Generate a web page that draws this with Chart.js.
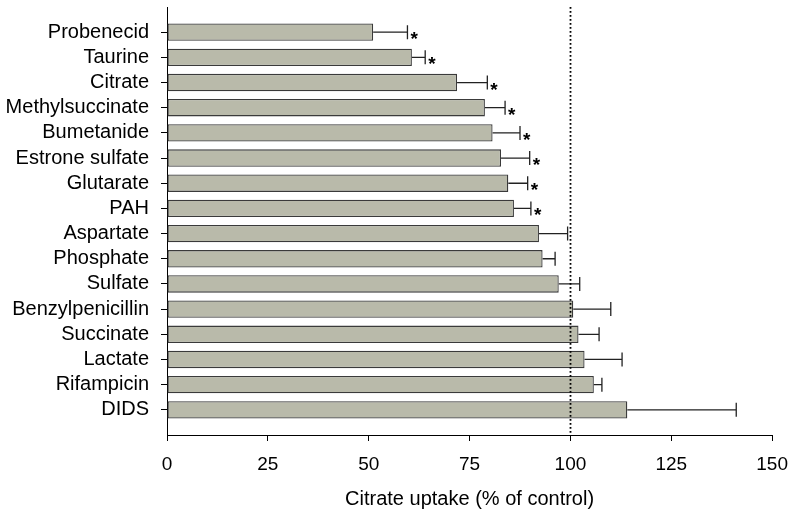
<!DOCTYPE html>
<html>
<head>
<meta charset="utf-8">
<script src="https://cdn.jsdelivr.net/npm/chart.js@4/dist/chart.umd.min.js"></script>
<style>
  html, body { margin: 0; padding: 0; background: #fff; }
  #chart { display: block; }
</style>
</head>
<body>
<canvas id="chart" width="800" height="517"></canvas>
<script>
const labels = ["Probenecid", "Taurine", "Citrate", "Methylsuccinate", "Bumetanide", "Estrone sulfate",
  "Glutarate", "PAH", "Aspartate", "Phosphate", "Sulfate", "Benzylpenicillin", "Succinate",
  "Lactate", "Rifampicin", "DIDS"];
const uptake = [51.1, 60.7, 71.9, 78.8, 80.7, 82.8, 84.6, 86.0, 92.2, 93.1, 97.1, 100.7, 102.0, 103.5, 105.8, 114.1];
const sem = [8.5, 3.3, 7.5, 5.0, 6.8, 7.1, 4.8, 4.2, 7.1, 3.1, 5.2, 9.3, 5.1, 9.3, 2.0, 27.0];
const significant = [true, true, true, true, true, true, true, true, false, false, false, false, false, false, false, false];
const xTicks = [0, 25, 50, 75, 100, 125, 150];
const controlLevel = 100;

const FONT = '"Liberation Sans", Arial, sans-serif';

// error bars, asterisks and the 100% line
const extras = {
  id: "extras",
  afterDatasetsDraw(chart) {
    const ctx = chart.ctx;
    const x = chart.scales.x;
    const area = chart.chartArea;
    const bars = chart.getDatasetMeta(0).data;

    ctx.save();
    ctx.strokeStyle = "#222";
    ctx.lineWidth = 1.3;
    bars.forEach((bar, i) => {
      const x0 = x.getPixelForValue(uptake[i]);
      const x1 = x.getPixelForValue(uptake[i] + sem[i]);
      const y = bar.y;
      ctx.beginPath();
      ctx.moveTo(x0, y);
      ctx.lineTo(x1, y);
      ctx.moveTo(x1, y - 7);
      ctx.lineTo(x1, y + 7);
      ctx.stroke();
      if (significant[i]) {
        ctx.fillStyle = "#000";
        ctx.font = "bold 19px " + FONT;
        ctx.textAlign = "left";
        ctx.textBaseline = "alphabetic";
        ctx.fillText("*", x1 + 3, y + 13);
      }
    });

    const xr = Math.round(x.getPixelForValue(controlLevel)) + 0.5;
    ctx.strokeStyle = "#000";
    ctx.lineWidth = 1.8;
    ctx.setLineDash([1.8, 2.2]);
    ctx.beginPath();
    ctx.moveTo(xr, area.top);
    ctx.lineTo(xr, area.bottom);
    ctx.stroke();
    ctx.restore();
  }
};

new Chart(document.getElementById("chart"), {
  type: "bar",
  data: {
    datasets: [{
      data: uptake.map((v, i) => ({ x: v, y: i })),
      backgroundColor: "#b9baaa",
      borderColor: "#3a3a3a",
      borderWidth: 1.3,
      borderSkipped: false,
      categoryPercentage: 1,
      barPercentage: 0.69
    }]
  },
  options: {
    indexAxis: "y",
    responsive: false,
    animation: false,
    devicePixelRatio: 1,
    layout: { padding: { top: 7, right: 21, bottom: 0, left: 0 } },
    plugins: { legend: { display: false }, tooltip: { enabled: false } },
    scales: {
      x: {
        type: "linear",
        min: 0,
        max: 150,
        offset: false,
        afterBuildTicks: s => { s.ticks = xTicks.map(v => ({ value: v })); },
        afterFit: s => { s.height = 82; },
        ticks: { color: "#000", font: { family: FONT, size: 19 }, padding: 12 },
        grid: { drawOnChartArea: false, tickLength: 6, color: "#000", lineWidth: 1, offset: false },
        border: { color: "#000", width: 1 },
        title: {
          display: true,
          text: "Citrate uptake (% of control)",
          color: "#000",
          font: { family: FONT, size: 20 },
          padding: { top: 4, bottom: 6 }
        }
      },
      y: {
        type: "linear",
        min: -1,
        max: 16,
        reverse: true,
        offset: false,
        afterBuildTicks: s => { s.ticks = labels.map((_, i) => ({ value: i })); },
        afterFit: s => { s.width = 167; s.paddingTop = 0; s.paddingBottom = 0; },
        ticks: {
          color: "#000",
          font: { family: FONT, size: 20 },
          padding: 12,
          autoSkip: false,
          callback: v => labels[v]
        },
        grid: { drawOnChartArea: false, tickLength: 6, color: "#000", lineWidth: 1, offset: false },
        border: { color: "#000", width: 1 }
      }
    }
  },
  plugins: [extras]
});
</script>
</body>
</html>
